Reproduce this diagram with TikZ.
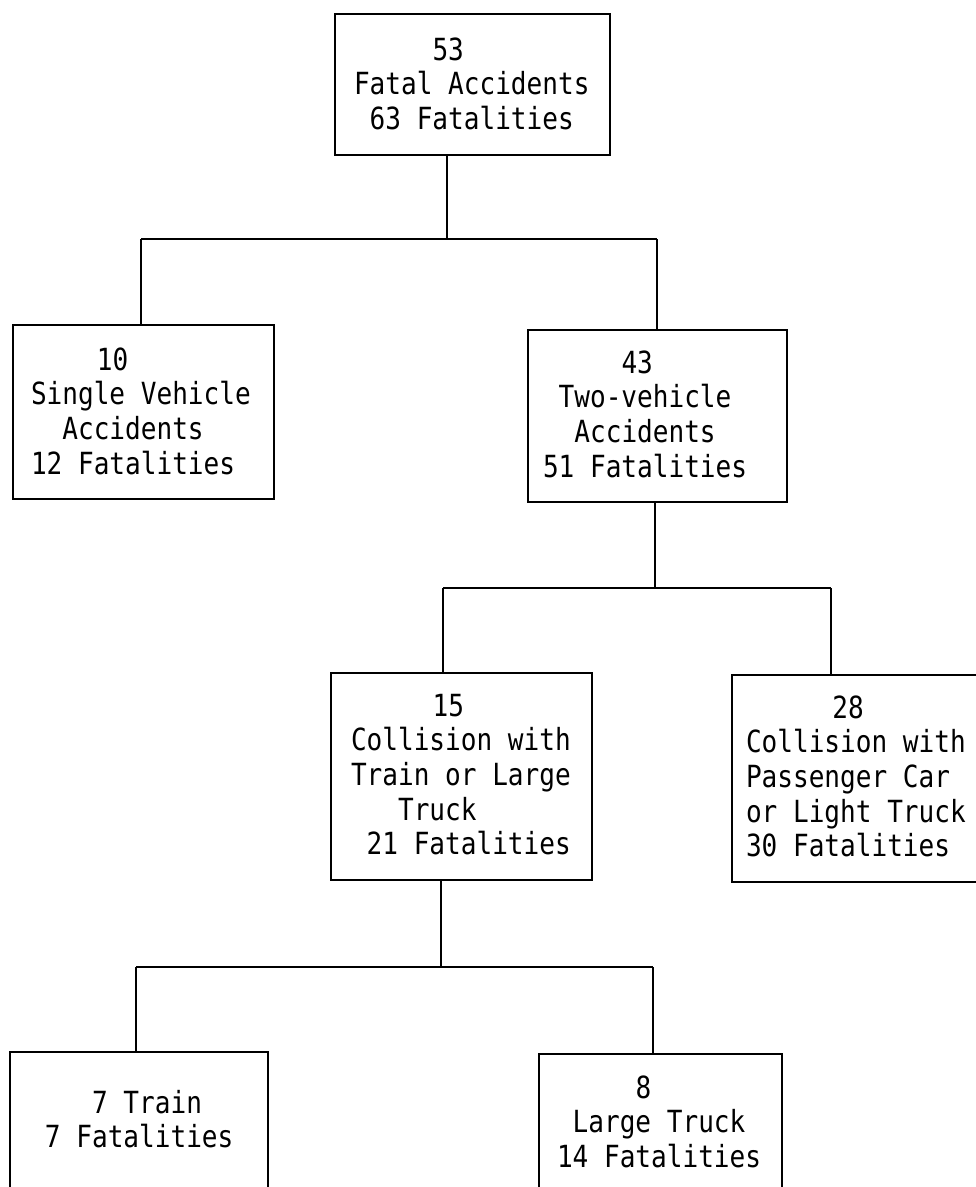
\documentclass[tikz,border=0pt]{standalone}
\usepackage{fontspec}
\newfontfamily\tw{DejaVu Sans Mono}[FakeStretch=0.855]
\newcommand\ind[1]{\hspace*{#1\fontcharwd\font`0}}
\tikzset{
  box/.style={draw, line width=1.7pt, inner sep=0pt, outer sep=0pt},
  lbl/.style={anchor=base west, inner sep=0pt, outer sep=0pt, font=\tw\fontsize{30.5}{34.7}\selectfont},
  conn/.style={line width=1.7pt}
}
\begin{document}
\begin{tikzpicture}[x=1pt,y=-1pt]
\useasboundingbox (0,0) rectangle (976,1187);
\clip (0,0) rectangle (976,1187);
\fill[white] (0,0) rectangle (976,1187);
% boxes
\node[box, minimum width=275, minimum height=141] (top) at (472.5,84.5) {};
\node[box, minimum width=261, minimum height=174] (single) at (143.5,412) {};
\node[box, minimum width=259, minimum height=172] (two) at (657.5,416) {};
\node[box, minimum width=261, minimum height=207] (c15) at (461.5,776.5) {};
\node[box, minimum width=258, minimum height=207] (c28) at (861,778.5) {};
\node[box, minimum width=258, minimum height=148] (train) at (139,1126) {};
\node[box, minimum width=243, minimum height=146] (truck) at (660.5,1127) {};
% texts
\node[lbl] (ttop) at (354,60) {\begin{tabular}[t]{@{}l@{}}\ind{5}53\\Fatal Accidents\\\ind{1}63 Fatalities\end{tabular}};
\node[lbl] (tsingle) at (31,370) {\begin{tabular}[t]{@{}l@{}}\ind{4.2}10\\Single Vehicle\\\ind{2}Accidents\\12 Fatalities\end{tabular}};
\node[lbl] (ttwo) at (543,373) {\begin{tabular}[t]{@{}l@{}}\ind{5}43\\\ind{1}Two-vehicle\\\ind{2}Accidents\\51 Fatalities\end{tabular}};
\node[lbl] (tc15) at (351,716) {\begin{tabular}[t]{@{}l@{}}\ind{5.2}15\\Collision with\\Train or Large\\\ind{3}Truck\\\ind{1}21 Fatalities\end{tabular}};
\node[lbl] (tc28) at (746,718) {\begin{tabular}[t]{@{}l@{}}\ind{5.5}28\\Collision with\\Passenger Car\\or Light Truck\\30 Fatalities\end{tabular}};
\node[lbl] (ttrain) at (45,1113) {\begin{tabular}[t]{@{}l@{}}\ind{3}7 Train\\7 Fatalities\end{tabular}};
\node[lbl] (ttruck) at (557,1098) {\begin{tabular}[t]{@{}l@{}}\ind{5}8\\\ind{1}Large Truck\\14 Fatalities\end{tabular}};
% connectors level 1
\coordinate (j1) at (447,239);
\coordinate (j1l) at (141,239);
\coordinate (j1r) at (657,239);
\draw[conn] (top.south -| j1) -- (j1);
\draw[conn] (j1l) -- (j1r);
\draw[conn] (j1l) -- (single.north -| j1l);
\draw[conn] (j1r) -- (two.north -| j1r);
% level 2
\coordinate (j2) at (655,588);
\coordinate (j2l) at (443,588);
\coordinate (j2r) at (831,588);
\draw[conn] (two.south -| j2) -- (j2);
\draw[conn] (j2l) -- (j2r);
\draw[conn] (j2l) -- (c15.north -| j2l);
\draw[conn] (j2r) -- (c28.north -| j2r);
% level 3
\coordinate (j3) at (441,967);
\coordinate (j3l) at (136,967);
\coordinate (j3r) at (653,967);
\draw[conn] (c15.south -| j3) -- (j3);
\draw[conn] (j3l) -- (j3r);
\draw[conn] (j3l) -- (train.north -| j3l);
\draw[conn] (j3r) -- (truck.north -| j3r);
\end{tikzpicture}
\end{document}
